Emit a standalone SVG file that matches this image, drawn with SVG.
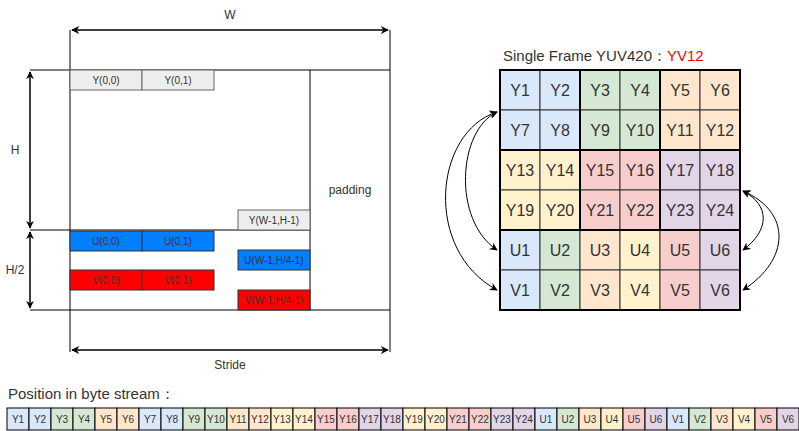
<svg xmlns="http://www.w3.org/2000/svg" width="799" height="431" viewBox="0 0 799 431">
<defs>
<marker id="ah" viewBox="0 0 10 10" refX="9" refY="5" markerWidth="8" markerHeight="8" orient="auto-start-reverse" markerUnits="userSpaceOnUse"><path d="M0 0 L10 5 L0 10 L3 5 Z" fill="#000"/></marker>
</defs>
<style>
text{font-family:"Liberation Sans",Arial,sans-serif;fill:#333;}
.ln{stroke:#000;stroke-width:1;fill:none;}
.dim{stroke:#000;stroke-width:1.5;fill:none;marker-start:url(#ah);marker-end:url(#ah);}
.cur{stroke:#000;stroke-width:1;fill:none;marker-start:url(#ah);marker-end:url(#ah);}
.sm{font-size:10px;text-anchor:middle;}
.lb{font-size:12px;text-anchor:middle;}
.cell{stroke:#333;stroke-width:1;}
.ct{font-size:16px;text-anchor:middle;}
.g{stroke:#000;stroke-width:2;fill:none;}
.bs{stroke:#000;stroke-width:1;}
.bt{font-size:10px;text-anchor:middle;}
.blue{fill:#dae8fc}.green{fill:#d5e8d4}.orange{fill:#ffe6cc}.yellow{fill:#fff2cc}.red{fill:#f8cecc}.purple{fill:#e1d5e7}
</style>
<rect width="799" height="431" fill="#fff"/>

<g id="connectors">
<line class="ln" x1="70" y1="30" x2="70" y2="352"/>
<line class="ln" x1="390" y1="30" x2="390" y2="352"/>
<line class="ln" x1="30" y1="70" x2="390" y2="70"/>
<line class="ln" x1="310" y1="70" x2="310" y2="310"/>
<line class="ln" x1="30" y1="230" x2="310" y2="230"/>
<line class="ln" x1="30" y1="310" x2="390" y2="310"/>
<line class="dim" x1="72" y1="30" x2="388" y2="30"/>
<line class="dim" x1="72" y1="350" x2="388" y2="350"/>
<line class="dim" x1="30" y1="72" x2="30" y2="228"/>
<line class="dim" x1="30" y1="232" x2="30" y2="308"/>
<path class="cur" d="M497 112 C458 130 452 220 497 250"/>
<path class="cur" d="M497 112 C434 132 423 250 497 290"/>
<path class="cur" d="M743 191 C770 205 770 230 743 250"/>
<path class="cur" d="M743 191 C792 212 790 260 743 290"/>
</g>

<g id="labels-left">
<text class="lb" x="230" y="19">W</text>
<text class="lb" x="15" y="154">H</text>
<text class="lb" x="15" y="274">H/2</text>
<text class="lb" x="350" y="194">padding</text>
<text class="lb" x="230" y="369">Stride</text>
</g>

<g id="y00"><rect x="70" y="70" width="72" height="20" fill="#eeeeee" stroke="#666"/><text class="sm" x="106" y="84">Y(0,0)</text></g>
<g id="y01"><rect x="142" y="70" width="72" height="20" fill="#eeeeee" stroke="#666"/><text class="sm" x="178" y="84">Y(0,1)</text></g>
<g id="ylast"><rect x="238" y="210" width="72" height="20" fill="#eeeeee" stroke="#666"/><text class="sm" x="274" y="224">Y(W-1,H-1)</text></g>
<g id="u00"><rect x="70" y="231" width="72" height="20" fill="#007fff" stroke="#333"/><text class="sm" x="106" y="245">U(0,0)</text></g>
<g id="u01"><rect x="142" y="231" width="72" height="20" fill="#007fff" stroke="#333"/><text class="sm" x="178" y="245">U(0,1)</text></g>
<g id="ulast"><rect x="238" y="250" width="72" height="20" fill="#007fff" stroke="#333"/><text class="sm" x="274" y="264">U(W-1,H/4-1)</text></g>
<g id="v00"><rect x="70" y="270" width="72" height="20" fill="#ff0000" stroke="#333"/><text class="sm" x="106" y="284">V(0,0)</text></g>
<g id="v01"><rect x="142" y="270" width="72" height="20" fill="#ff0000" stroke="#333"/><text class="sm" x="178" y="284">V(0,1)</text></g>
<g id="vlast"><rect x="238" y="290" width="72" height="20" fill="#ff0000" stroke="#333"/><text class="sm" x="274" y="304">V(W-1,H/4-1)</text></g>

<g id="title"><text x="503" y="61" font-size="15">Single Frame YUV420：<tspan fill="#ff0000">YV12</tspan></text></g>

<g id="grid">
<rect class="cell blue" x="500" y="70" width="40" height="40"/><text class="ct" x="520" y="96">Y1</text>
<rect class="cell blue" x="540" y="70" width="40" height="40"/><text class="ct" x="560" y="96">Y2</text>
<rect class="cell green" x="580" y="70" width="40" height="40"/><text class="ct" x="600" y="96">Y3</text>
<rect class="cell green" x="620" y="70" width="40" height="40"/><text class="ct" x="640" y="96">Y4</text>
<rect class="cell orange" x="660" y="70" width="40" height="40"/><text class="ct" x="680" y="96">Y5</text>
<rect class="cell orange" x="700" y="70" width="40" height="40"/><text class="ct" x="720" y="96">Y6</text>
<rect class="cell blue" x="500" y="110" width="40" height="40"/><text class="ct" x="520" y="136">Y7</text>
<rect class="cell blue" x="540" y="110" width="40" height="40"/><text class="ct" x="560" y="136">Y8</text>
<rect class="cell green" x="580" y="110" width="40" height="40"/><text class="ct" x="600" y="136">Y9</text>
<rect class="cell green" x="620" y="110" width="40" height="40"/><text class="ct" x="640" y="136">Y10</text>
<rect class="cell orange" x="660" y="110" width="40" height="40"/><text class="ct" x="680" y="136">Y11</text>
<rect class="cell orange" x="700" y="110" width="40" height="40"/><text class="ct" x="720" y="136">Y12</text>
<rect class="cell yellow" x="500" y="150" width="40" height="40"/><text class="ct" x="520" y="176">Y13</text>
<rect class="cell yellow" x="540" y="150" width="40" height="40"/><text class="ct" x="560" y="176">Y14</text>
<rect class="cell red" x="580" y="150" width="40" height="40"/><text class="ct" x="600" y="176">Y15</text>
<rect class="cell red" x="620" y="150" width="40" height="40"/><text class="ct" x="640" y="176">Y16</text>
<rect class="cell purple" x="660" y="150" width="40" height="40"/><text class="ct" x="680" y="176">Y17</text>
<rect class="cell purple" x="700" y="150" width="40" height="40"/><text class="ct" x="720" y="176">Y18</text>
<rect class="cell yellow" x="500" y="190" width="40" height="40"/><text class="ct" x="520" y="216">Y19</text>
<rect class="cell yellow" x="540" y="190" width="40" height="40"/><text class="ct" x="560" y="216">Y20</text>
<rect class="cell red" x="580" y="190" width="40" height="40"/><text class="ct" x="600" y="216">Y21</text>
<rect class="cell red" x="620" y="190" width="40" height="40"/><text class="ct" x="640" y="216">Y22</text>
<rect class="cell purple" x="660" y="190" width="40" height="40"/><text class="ct" x="680" y="216">Y23</text>
<rect class="cell purple" x="700" y="190" width="40" height="40"/><text class="ct" x="720" y="216">Y24</text>
<rect class="cell blue" x="500" y="230" width="40" height="40"/><text class="ct" x="520" y="256">U1</text>
<rect class="cell green" x="540" y="230" width="40" height="40"/><text class="ct" x="560" y="256">U2</text>
<rect class="cell orange" x="580" y="230" width="40" height="40"/><text class="ct" x="600" y="256">U3</text>
<rect class="cell yellow" x="620" y="230" width="40" height="40"/><text class="ct" x="640" y="256">U4</text>
<rect class="cell red" x="660" y="230" width="40" height="40"/><text class="ct" x="680" y="256">U5</text>
<rect class="cell purple" x="700" y="230" width="40" height="40"/><text class="ct" x="720" y="256">U6</text>
<rect class="cell blue" x="500" y="270" width="40" height="40"/><text class="ct" x="520" y="296">V1</text>
<rect class="cell green" x="540" y="270" width="40" height="40"/><text class="ct" x="560" y="296">V2</text>
<rect class="cell orange" x="580" y="270" width="40" height="40"/><text class="ct" x="600" y="296">V3</text>
<rect class="cell yellow" x="620" y="270" width="40" height="40"/><text class="ct" x="640" y="296">V4</text>
<rect class="cell red" x="660" y="270" width="40" height="40"/><text class="ct" x="680" y="296">V5</text>
<rect class="cell purple" x="700" y="270" width="40" height="40"/><text class="ct" x="720" y="296">V6</text>
<rect class="g" x="500" y="70" width="80" height="80"/>
<rect class="g" x="580" y="70" width="80" height="80"/>
<rect class="g" x="660" y="70" width="80" height="80"/>
<rect class="g" x="500" y="150" width="80" height="80"/>
<rect class="g" x="580" y="150" width="80" height="80"/>
<rect class="g" x="660" y="150" width="80" height="80"/>
<rect class="g" x="500" y="230" width="240" height="80"/>
</g>

<g id="stream-title"><text x="8" y="399" font-size="15">Position in byte stream：</text></g>

<g id="stream">
<rect class="bs blue" x="7" y="408" width="22" height="22"/><text class="bt" x="18" y="423">Y1</text>
<rect class="bs blue" x="29" y="408" width="22" height="22"/><text class="bt" x="40" y="423">Y2</text>
<rect class="bs green" x="51" y="408" width="22" height="22"/><text class="bt" x="62" y="423">Y3</text>
<rect class="bs green" x="73" y="408" width="22" height="22"/><text class="bt" x="84" y="423">Y4</text>
<rect class="bs orange" x="95" y="408" width="22" height="22"/><text class="bt" x="106" y="423">Y5</text>
<rect class="bs orange" x="117" y="408" width="22" height="22"/><text class="bt" x="128" y="423">Y6</text>
<rect class="bs blue" x="139" y="408" width="22" height="22"/><text class="bt" x="150" y="423">Y7</text>
<rect class="bs blue" x="161" y="408" width="22" height="22"/><text class="bt" x="172" y="423">Y8</text>
<rect class="bs green" x="183" y="408" width="22" height="22"/><text class="bt" x="194" y="423">Y9</text>
<rect class="bs green" x="205" y="408" width="22" height="22"/><text class="bt" x="216" y="423">Y10</text>
<rect class="bs orange" x="227" y="408" width="22" height="22"/><text class="bt" x="238" y="423">Y11</text>
<rect class="bs orange" x="249" y="408" width="22" height="22"/><text class="bt" x="260" y="423">Y12</text>
<rect class="bs yellow" x="271" y="408" width="22" height="22"/><text class="bt" x="282" y="423">Y13</text>
<rect class="bs yellow" x="293" y="408" width="22" height="22"/><text class="bt" x="304" y="423">Y14</text>
<rect class="bs red" x="315" y="408" width="22" height="22"/><text class="bt" x="326" y="423">Y15</text>
<rect class="bs red" x="337" y="408" width="22" height="22"/><text class="bt" x="348" y="423">Y16</text>
<rect class="bs purple" x="359" y="408" width="22" height="22"/><text class="bt" x="370" y="423">Y17</text>
<rect class="bs purple" x="381" y="408" width="22" height="22"/><text class="bt" x="392" y="423">Y18</text>
<rect class="bs yellow" x="403" y="408" width="22" height="22"/><text class="bt" x="414" y="423">Y19</text>
<rect class="bs yellow" x="425" y="408" width="22" height="22"/><text class="bt" x="436" y="423">Y20</text>
<rect class="bs red" x="447" y="408" width="22" height="22"/><text class="bt" x="458" y="423">Y21</text>
<rect class="bs red" x="469" y="408" width="22" height="22"/><text class="bt" x="480" y="423">Y22</text>
<rect class="bs purple" x="491" y="408" width="22" height="22"/><text class="bt" x="502" y="423">Y23</text>
<rect class="bs purple" x="513" y="408" width="22" height="22"/><text class="bt" x="524" y="423">Y24</text>
<rect class="bs blue" x="535" y="408" width="22" height="22"/><text class="bt" x="546" y="423">U1</text>
<rect class="bs green" x="557" y="408" width="22" height="22"/><text class="bt" x="568" y="423">U2</text>
<rect class="bs orange" x="579" y="408" width="22" height="22"/><text class="bt" x="590" y="423">U3</text>
<rect class="bs yellow" x="601" y="408" width="22" height="22"/><text class="bt" x="612" y="423">U4</text>
<rect class="bs red" x="623" y="408" width="22" height="22"/><text class="bt" x="634" y="423">U5</text>
<rect class="bs purple" x="645" y="408" width="22" height="22"/><text class="bt" x="656" y="423">U6</text>
<rect class="bs blue" x="667" y="408" width="22" height="22"/><text class="bt" x="678" y="423">V1</text>
<rect class="bs green" x="689" y="408" width="22" height="22"/><text class="bt" x="700" y="423">V2</text>
<rect class="bs orange" x="711" y="408" width="22" height="22"/><text class="bt" x="722" y="423">V3</text>
<rect class="bs yellow" x="733" y="408" width="22" height="22"/><text class="bt" x="744" y="423">V4</text>
<rect class="bs red" x="755" y="408" width="22" height="22"/><text class="bt" x="766" y="423">V5</text>
<rect class="bs purple" x="777" y="408" width="22" height="22"/><text class="bt" x="788" y="423">V6</text>
</g>
</svg>
